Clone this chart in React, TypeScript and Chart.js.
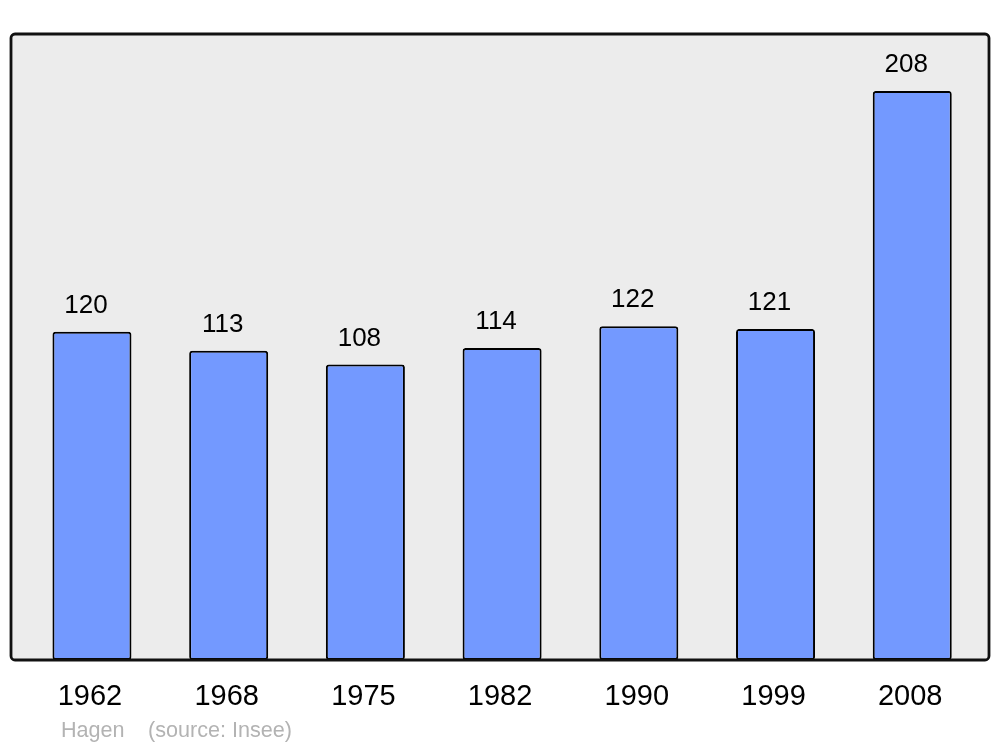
import React, { useEffect, useRef } from "react";
import { Chart, registerables } from "chart.js";

Chart.register(...registerables);

const years = ["1962", "1968", "1975", "1982", "1990", "1999", "2008"];
const population = [120, 113, 108, 114, 122, 121, 208];
const placeName = "Hagen";
const sourceText = "(source: Insee)";

const FONT = '"Liberation Sans", Arial, sans-serif';

const framePlugin = {
  id: "frame",
  beforeDraw(chart: any) {
    const { ctx, chartArea } = chart;
    const x0 = chartArea.left - 12.6;
    const x1 = chartArea.right + 8.4;
    const y0 = chartArea.top;
    const y1 = chartArea.bottom;
    ctx.save();
    ctx.beginPath();
    (ctx as any).roundRect(x0, y0, x1 - x0, y1 - y0, 4);
    ctx.fillStyle = "#ececec";
    ctx.fill();
    ctx.restore();
  },
  afterDatasetsDraw(chart: any) {
    const { ctx, chartArea } = chart;
    const x0 = chartArea.left - 12.6;
    const x1 = chartArea.right + 8.4;
    const y0 = chartArea.top;
    const y1 = chartArea.bottom;
    ctx.save();
    ctx.beginPath();
    (ctx as any).roundRect(x0, y0, x1 - x0, y1 - y0, 4);
    ctx.lineWidth = 2.8;
    ctx.strokeStyle = "#111111";
    ctx.stroke();
    // value labels
    const meta = chart.getDatasetMeta(0);
    ctx.fillStyle = "#000000";
    ctx.font = `26px ${FONT}`;
    ctx.textAlign = "center";
    ctx.textBaseline = "alphabetic";
    meta.data.forEach((bar: any, i: number) => {
      ctx.fillText(String(population[i]), bar.x - 6, bar.y - 19);
    });
    // source line
    ctx.fillStyle = "#b3b3b3";
    ctx.font = `21.6px ${FONT}`;
    ctx.textAlign = "left";
    ctx.fillText(placeName, 61, 737);
    ctx.fillText(sourceText, 148, 737);
    ctx.restore();
  },
};

export default function App() {
  const ref = useRef<HTMLCanvasElement | null>(null);
  useEffect(() => {
    document.body.style.margin = "0";
    const chart = new Chart(ref.current as HTMLCanvasElement, {
      type: "bar",
      data: {
        labels: years,
        datasets: [
          {
            data: population,
            backgroundColor: "#7399ff",
            borderColor: "#000000",
            borderWidth: 2,
            borderRadius: 3,
            borderSkipped: false,
            categoryPercentage: 1,
            barPercentage: 0.578,
          },
        ],
      },
      options: {
        animation: false,
        responsive: false,
        maintainAspectRatio: false,
        layout: { padding: { left: 23.6, right: 19.4, top: 34, bottom: 0 } },
        plugins: { legend: { display: false }, tooltip: { enabled: false } },
        scales: {
          x: {
            grid: { display: false, drawTicks: false },
            border: { display: false },
            ticks: {
              color: "#000000",
              font: { family: FONT, size: 29 },
              padding: 20,
              labelOffset: -2,
            },
            afterFit: (s: any) => {
              s.height = 87;
            },
          },
          y: {
            display: false,
            min: 0,
            max: 228.8,
          },
        },
      },
      plugins: [framePlugin],
    });
    return () => chart.destroy();
  }, []);
  return (
    <div style={{ position: "absolute", left: 0, top: 0, width: 1000, height: 747, background: "#ffffff" }}>
      <canvas ref={ref} width={1000} height={747} style={{ width: 1000, height: 747 }} />
    </div>
  );
}
